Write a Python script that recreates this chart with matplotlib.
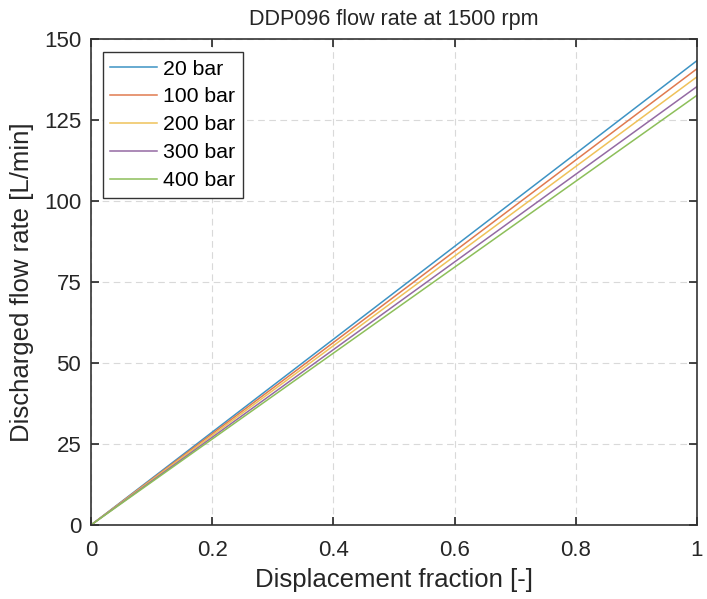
import matplotlib.pyplot as plt

# Data
fraction = [0.0, 1.0]
pressures = ['20 bar', '100 bar', '200 bar', '300 bar', '400 bar']
flow_20 = [0.0, 143.3]
flow_100 = [0.0, 140.8]
flow_200 = [0.0, 138.3]
flow_300 = [0.0, 135.3]
flow_400 = [0.0, 132.6]
flows = [flow_20, flow_100, flow_200, flow_300, flow_400]
colors = ['#3d93c4', '#e07a4f', '#efc25a', '#946aa3', '#8dbf5a']

plt.rcParams['font.family'] = ['Liberation Sans', 'DejaVu Sans']

fig = plt.figure(figsize=(7.07, 5.99), dpi=100)
ax = fig.add_axes([0.1287, 0.1235, 0.857, 0.8114])

for label, flow, c in zip(pressures, flows, colors):
    ax.plot(fraction, flow, color=c, lw=1.1, label=label)

ax.set_xlim(0, 1)
ax.set_ylim(0, 150)
ax.set_xticks([0, 0.2, 0.4, 0.6, 0.8, 1])
ax.set_xticklabels(['0', '0.2', '0.4', '0.6', '0.8', '1'])
ax.set_yticks([0, 25, 50, 75, 100, 125, 150])
ax.grid(True, ls=(0, (6, 4)), color='#d9d9d9', lw=0.8)
ax.tick_params(direction='in', top=True, right=True, labelsize=16,
               colors='#262626', length=6, width=1.2)
ax.tick_params(axis='x', pad=11)
ax.tick_params(axis='y', pad=7)
for s in ax.spines.values():
    s.set_color('#333333')
    s.set_linewidth(1.2)

ax.set_xlabel('Displacement fraction [-]', fontsize=18.5, color='#262626',
              labelpad=4.5)
ax.set_ylabel('Discharged flow rate [L/min]', fontsize=18.5, color='#262626',
              labelpad=7)
ax.set_title('DDP096 flow rate at 1500 rpm', fontsize=15.5, color='#262626',
             pad=10)

leg = ax.legend(loc='upper left', fontsize=15.3, handlelength=2.2,
                handletextpad=0.3, fancybox=False, framealpha=1,
                borderpad=0.35, borderaxespad=0, labelspacing=0.42,
                bbox_to_anchor=(0.019, 0.973))
leg.get_frame().set_edgecolor('#333333')
leg.get_frame().set_linewidth(1.0)

plt.savefig('out.png', format='png')
